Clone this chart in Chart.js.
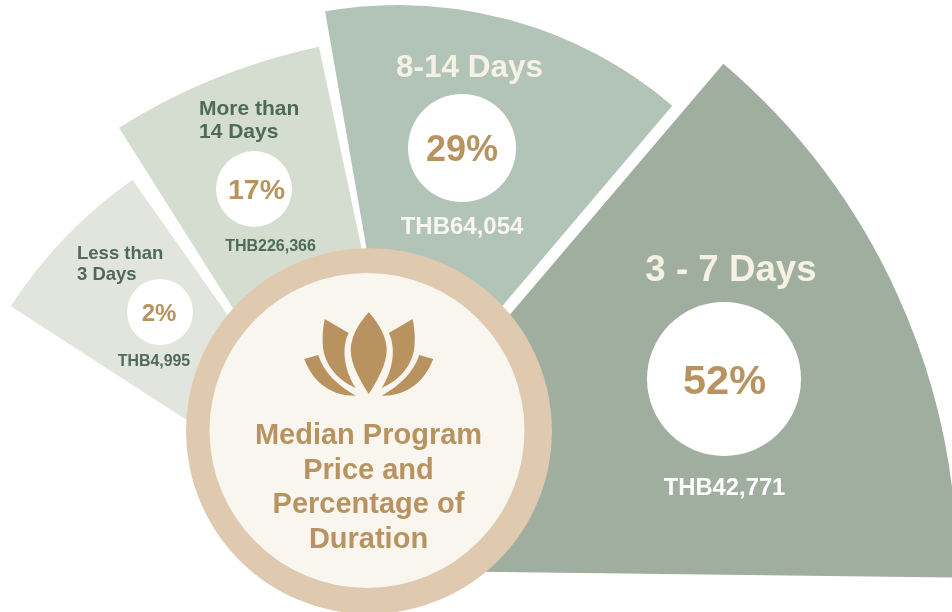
<!DOCTYPE html>
<html>
<head>
<meta charset="utf-8">
<style>
  html, body { margin: 0; padding: 0; background: #fff; }
  canvas { display: block; }
</style>
<script src="https://cdn.jsdelivr.net/npm/chart.js@4"></script>
</head>
<body>
<canvas id="durationChart" width="952" height="612"></canvas>
<script>
const durations = ['Less than 3 Days', 'More than 14 Days', '8-14 Days', '3 - 7 Days'];
const shares = ['2%', '17%', '29%', '52%'];
const prices = ['THB4,995', 'THB226,366', 'THB64,054', 'THB42,771'];
const sectorReach = [460, 611, 424, 664];
const sectorSweep = [22, 20.35, 50.2, 50.3];
const hubTitle = ['Median Program', 'Price and', 'Percentage of', 'Duration'];

const FONT = '"Liberation Sans", Arial, sans-serif';
const GOLD = '#b89360';
const GREEN = '#4f6a56';

// each fan blade has its own pivot, so they get moved after the controller lays them out
const blades = [
    { x: 397, y: 556, from: -57.1, inner: 0 },
    { x: 445, y: 644.5, from: -32.25, inner: 120 },
    { x: 398, y: 429, from: -9.9, inner: 0 },
    { x: 293, y: 569.5, from: 40.4, inner: 0 }
];

const labelLayout = [
    {
        title: ['Less than', '3 Days'], titleX: 77, titleY: [259, 280], titleSize: 18.5, titleAlign: 'left', titleColor: GREEN,
        circle: [160, 312, 33], shareSize: 24, shareX: 159, priceX: 154, priceY: 366, priceSize: 15.9, priceColor: GREEN
    },
    {
        title: ['More than', '14 Days'], titleX: 199, titleY: [115, 138], titleSize: 21, titleAlign: 'left', titleColor: GREEN,
        circle: [254, 189, 38], shareSize: 28.5, shareX: 256.5, priceX: 270.5, priceY: 251, priceSize: 16, priceColor: GREEN
    },
    {
        title: ['8-14 Days'], titleX: 469.5, titleY: [77], titleSize: 31.5, titleAlign: 'center', titleColor: '#f5f1e3',
        circle: [462, 148, 54], shareSize: 36, shareX: 462, priceX: 462, priceY: 234, priceSize: 24, priceColor: '#f8f6ee'
    },
    {
        title: ['3 - 7 Days'], titleX: 731, titleY: [281], titleSize: 36.7, titleAlign: 'center', titleColor: '#f5f1e3',
        circle: [724, 379, 77], shareSize: 41.5, shareX: 724.5, priceX: 724.5, priceY: 495, priceSize: 23.8, priceColor: '#ffffff'
    }
];

function drawPetal(ctx, ox, oy, flip, pts) {
    ctx.beginPath();
    ctx.moveTo(ox + flip * pts[0][0], oy + pts[0][1]);
    for (let i = 1; i < pts.length; i++) {
        const s = pts[i];
        if (s.length === 2) {
            ctx.lineTo(ox + flip * s[0], oy + s[1]);
        } else {
            ctx.bezierCurveTo(ox + flip * s[0], oy + s[1], ox + flip * s[2], oy + s[3], ox + flip * s[4], oy + s[5]);
        }
    }
    ctx.closePath();
    ctx.fill();
}

const fanPlugin = {
    id: 'fan',
    afterDatasetsUpdate(chart) {
        chart.getDatasetMeta(0).data.forEach((arc, i) => {
            const blade = blades[i];
            arc.x = blade.x;
            arc.y = blade.y;
            arc.innerRadius = blade.inner;
            arc.startAngle = (blade.from - 90) * Math.PI / 180;
            arc.endAngle = arc.startAngle + sectorSweep[i] * Math.PI / 180;
        });
    },
    afterDatasetsDraw(chart) {
        const ctx = chart.ctx;
        ctx.save();
        ctx.textBaseline = 'alphabetic';

        labelLayout.forEach((lab, i) => {
            ctx.fillStyle = lab.titleColor;
            ctx.textAlign = lab.titleAlign;
            ctx.font = 'bold ' + lab.titleSize + 'px ' + FONT;
            lab.title.forEach((line, k) => ctx.fillText(line, lab.titleX, lab.titleY[k]));

            ctx.fillStyle = '#ffffff';
            ctx.beginPath();
            ctx.arc(lab.circle[0], lab.circle[1], lab.circle[2], 0, Math.PI * 2);
            ctx.fill();

            ctx.fillStyle = GOLD;
            ctx.textAlign = 'center';
            ctx.font = 'bold ' + lab.shareSize + 'px ' + FONT;
            ctx.fillText(shares[i], lab.shareX, lab.circle[1] + lab.shareSize * 0.36);

            ctx.fillStyle = lab.priceColor;
            ctx.font = 'bold ' + lab.priceSize + 'px ' + FONT;
            ctx.fillText(prices[i], lab.priceX, lab.priceY);
        });

        // hub
        ctx.fillStyle = '#dfcab0';
        ctx.beginPath();
        ctx.arc(369, 431, 183, 0, Math.PI * 2);
        ctx.fill();
        ctx.fillStyle = '#f9f6f0';
        ctx.beginPath();
        ctx.arc(367, 430.5, 157.5, 0, Math.PI * 2);
        ctx.fill();

        // lotus
        ctx.fillStyle = GOLD;
        const ox = 368.7, oy = 300;
        drawPetal(ctx, ox, oy, 1, [
            [0, 12.3],
            [11, 24, 18, 38, 18, 50],
            [18, 64, 9, 80, 0, 94],
            [-9, 80, -18, 64, -18, 50],
            [-18, 38, -11, 24, 0, 12.3]
        ]);
        [1, -1].forEach(flip => {
            drawPetal(ctx, ox, oy, flip, [
                [-44, 19], [-20, 33],
                [-26, 44, -27, 66, -13, 88],
                [-26, 82, -40, 72, -45, 52],
                [-47, 40, -46, 30, -44, 19]
            ]);
            drawPetal(ctx, ox, oy, flip, [
                [-64.5, 59], [-50.5, 55],
                [-45, 72, -32, 85, -13, 95.7],
                [-36, 96, -55, 84, -64.5, 59]
            ]);
        });

        ctx.fillStyle = GOLD;
        ctx.textAlign = 'center';
        ctx.font = 'bold 29px ' + FONT;
        hubTitle.forEach((line, k) => ctx.fillText(line, 368.5, 444 + k * 34.7));
        ctx.restore();
    }
};

new Chart(document.getElementById('durationChart'), {
    type: 'polarArea',
    data: {
        labels: durations,
        datasets: [{
            data: sectorReach,
            backgroundColor: ['#e1e5de', '#d5ddd1', '#b2c3b8', '#a0aea0'],
            borderWidth: 0
        }]
    },
    options: {
        responsive: false,
        animation: false,
        layout: { padding: 0 },
        scales: {
            r: { display: false, min: 0, max: 306 }
        },
        plugins: {
            legend: { display: false },
            tooltip: { enabled: false }
        }
    },
    plugins: [fanPlugin]
});
</script>
</body>
</html>
